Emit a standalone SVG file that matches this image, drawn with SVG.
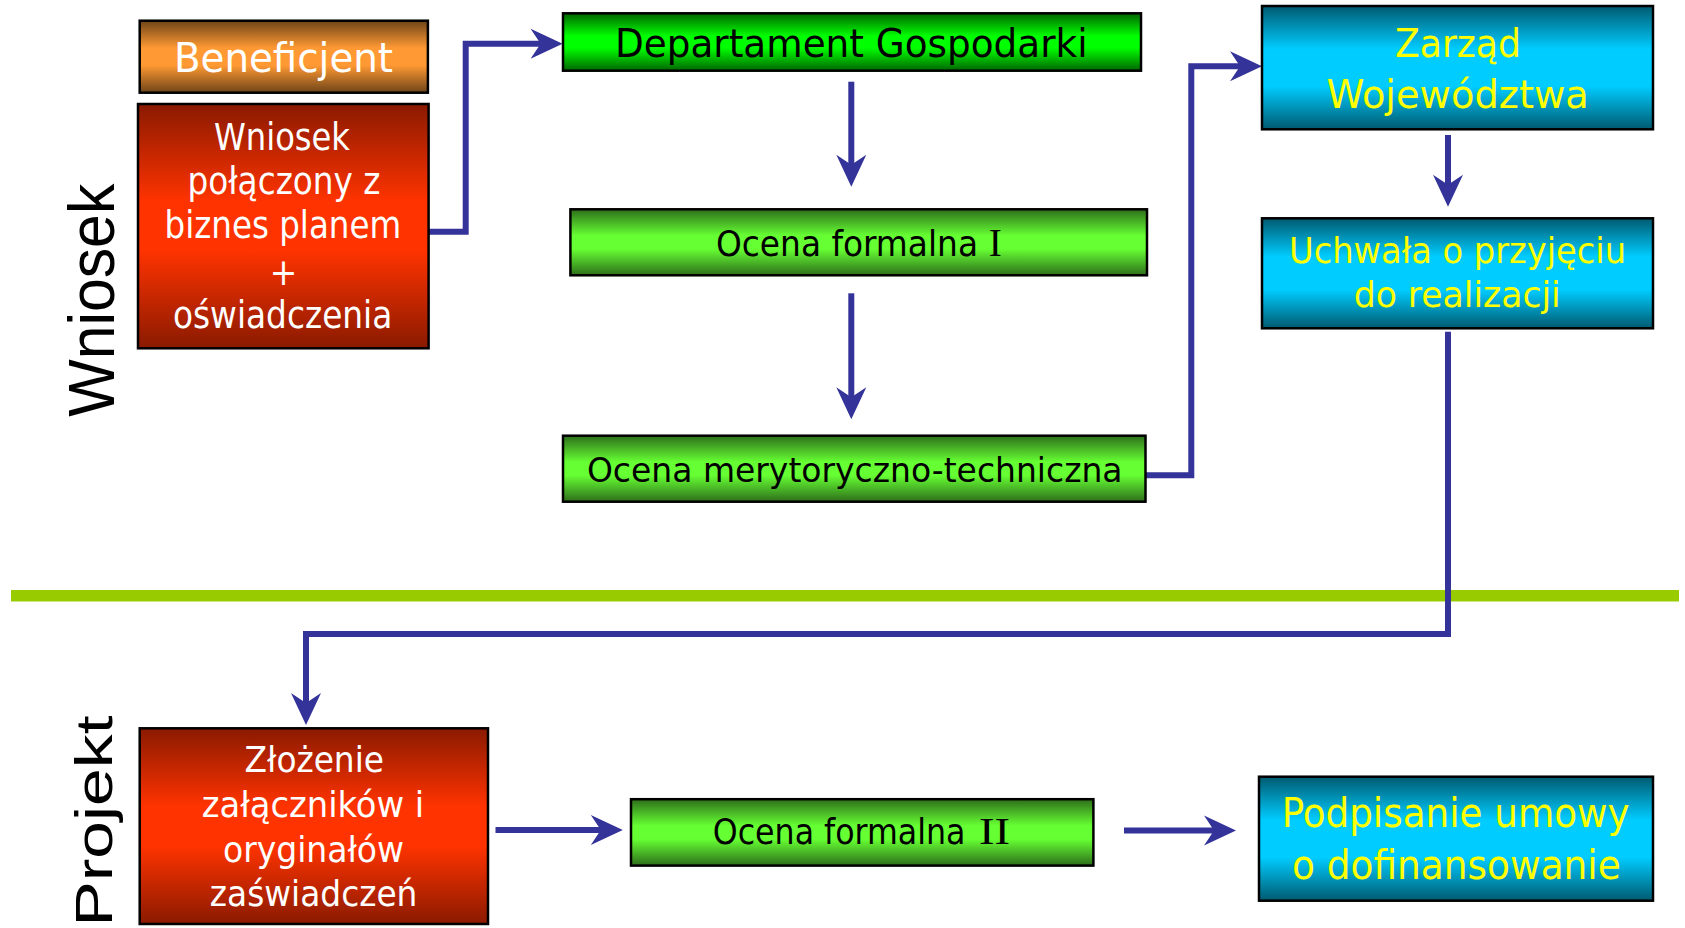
<svg xmlns="http://www.w3.org/2000/svg" width="1685" height="928" viewBox="0 0 1685 928">
<style>
.box{stroke:#000;stroke-width:2.5}
.t{font-family:"DejaVu Sans","Liberation Sans",sans-serif;font-stretch:condensed}
.w{fill:#fff}
.k{fill:#000}
.y{fill:#ffff00}
.s{font-family:"Liberation Serif","Times New Roman",serif;fill:#000}
.lab{font-family:"Liberation Sans",Arial,sans-serif;fill:#000}
.con{fill:none;stroke:#333399;stroke-width:6;stroke-linejoin:miter}
</style>
<defs>
<linearGradient id="gOr" x1="0" y1="0" x2="0" y2="1">
<stop offset="0" stop-color="#6e4418"/><stop offset="0.38" stop-color="#ff9933"/><stop offset="0.62" stop-color="#ff9933"/><stop offset="1" stop-color="#6e4418"/>
</linearGradient>
<linearGradient id="gRed" x1="0" y1="0" x2="0" y2="1">
<stop offset="0" stop-color="#8a1a00"/><stop offset="0.4" stop-color="#ff3300"/><stop offset="0.6" stop-color="#ff3300"/><stop offset="1" stop-color="#8a1a00"/>
</linearGradient>
<linearGradient id="gG1" x1="0" y1="0" x2="0" y2="1">
<stop offset="0" stop-color="#006600"/><stop offset="0.4" stop-color="#00ff00"/><stop offset="0.6" stop-color="#00ff00"/><stop offset="1" stop-color="#006600"/>
</linearGradient>
<linearGradient id="gG2" x1="0" y1="0" x2="0" y2="1">
<stop offset="0" stop-color="#2d6e1a"/><stop offset="0.4" stop-color="#66ff33"/><stop offset="0.6" stop-color="#66ff33"/><stop offset="1" stop-color="#2d6e1a"/>
</linearGradient>
<linearGradient id="gB" x1="0" y1="0" x2="0" y2="1">
<stop offset="0" stop-color="#005a70"/><stop offset="0.35" stop-color="#00ccff"/><stop offset="0.65" stop-color="#00ccff"/><stop offset="1" stop-color="#005a70"/>
</linearGradient>
<marker id="ah" markerUnits="userSpaceOnUse" orient="auto" refX="0" refY="0" markerWidth="40" markerHeight="40" overflow="visible">
<path d="M20,0 L-12,-15 L-2,0 L-12,15 Z" fill="#333399"/>
</marker>
</defs>

<rect x="11" y="590" width="1668" height="11.5" fill="#99cc00"/>

<text class="lab" font-size="64" transform="translate(114,416.7) rotate(-90)" textLength="233" lengthAdjust="spacingAndGlyphs">Wniosek</text>
<text class="lab" font-size="52" transform="translate(111.7,926.5) rotate(-90)" textLength="211" lengthAdjust="spacingAndGlyphs">Projekt</text>

<g id="connectors">
<path class="con" d="M428.6,231.7 H465.7 V43.7 H542.6" marker-end="url(#ah)"/>
<path class="con" d="M851.3,81.7 V166.7" marker-end="url(#ah)"/>
<path class="con" d="M851.3,293.3 V399.3" marker-end="url(#ah)"/>
<path class="con" d="M1146,475.3 H1191.3 V66.3 H1242" marker-end="url(#ah)"/>
<path class="con" d="M1448,135 V186.7" marker-end="url(#ah)"/>
<path class="con" d="M1448,331.7 V634 H306 V705" marker-end="url(#ah)"/>
<path class="con" d="M495.5,830 H602.8" marker-end="url(#ah)"/>
<path class="con" d="M1124,830.5 H1216" marker-end="url(#ah)"/>
</g>

<g id="beneficjent">
<rect class="box" x="139.7" y="20.7" width="288.2" height="72" fill="url(#gOr)"/>
<text class="t w" font-size="41" x="174" y="71.7" textLength="219" lengthAdjust="spacingAndGlyphs">Beneficjent</text>
</g>

<g id="wniosek">
<rect class="box" x="138" y="104" width="290.6" height="244.3" fill="url(#gRed)"/>
<text class="t w" font-size="36.5" x="214" y="150" textLength="136" lengthAdjust="spacingAndGlyphs">Wniosek</text>
<text class="t w" font-size="36.5" x="187.5" y="194" textLength="193" lengthAdjust="spacingAndGlyphs">połączony z</text>
<text class="t w" font-size="36.5" x="164.6" y="238" textLength="236.5" lengthAdjust="spacingAndGlyphs">biznes planem</text>
<text class="t w" font-size="36.5" x="283.5" y="285" text-anchor="middle">+</text>
<text class="t w" font-size="36.5" x="173" y="328.3" textLength="219.3" lengthAdjust="spacingAndGlyphs">oświadczenia</text>
</g>

<g id="departament">
<rect class="box" x="563" y="13.3" width="578" height="57.4" fill="url(#gG1)"/>
<text class="t k" font-size="39" x="615" y="56.7" textLength="472.6" lengthAdjust="spacingAndGlyphs">Departament Gospodarki</text>
</g>

<g id="ocena1">
<rect class="box" x="570.4" y="209.3" width="576.6" height="66" fill="url(#gG2)"/>
<text class="t k" font-size="35" x="716" y="255.7" textLength="262" lengthAdjust="spacingAndGlyphs">Ocena formalna</text>
<text class="s" font-size="39" x="988.8" y="255.7" textLength="13" lengthAdjust="spacingAndGlyphs">I</text>
</g>

<g id="ocena-mer">
<rect class="box" x="563" y="435.7" width="582.5" height="66" fill="url(#gG2)"/>
<text class="t k" font-size="34" x="586.9" y="481.7" textLength="535.7" lengthAdjust="spacingAndGlyphs">Ocena merytoryczno-techniczna</text>
</g>

<g id="zarzad">
<rect class="box" x="1262" y="6" width="391" height="123.3" fill="url(#gB)"/>
<text class="t y" font-size="39" x="1395" y="56.7" textLength="126" lengthAdjust="spacingAndGlyphs">Zarząd</text>
<text class="t y" font-size="39" x="1326.5" y="107.7" textLength="262.3" lengthAdjust="spacingAndGlyphs">Województwa</text>
</g>

<g id="uchwala">
<rect class="box" x="1262" y="218.3" width="391" height="110" fill="url(#gB)"/>
<text class="t y" font-size="36" x="1289" y="263.3" textLength="337" lengthAdjust="spacingAndGlyphs">Uchwała o przyjęciu</text>
<text class="t y" font-size="36" x="1353.7" y="307.3" textLength="207" lengthAdjust="spacingAndGlyphs">do realizacji</text>
</g>

<g id="zlozenie">
<rect class="box" x="139.7" y="728.3" width="348.3" height="195.7" fill="url(#gRed)"/>
<text class="t w" font-size="35" x="244.6" y="772.3" textLength="139.4" lengthAdjust="spacingAndGlyphs">Złożenie</text>
<text class="t w" font-size="35" x="201.8" y="817.3" textLength="222.3" lengthAdjust="spacingAndGlyphs">załączników i</text>
<text class="t w" font-size="35" x="223" y="861.7" textLength="181" lengthAdjust="spacingAndGlyphs">oryginałów</text>
<text class="t w" font-size="35" x="209.8" y="905.7" textLength="207.6" lengthAdjust="spacingAndGlyphs">zaświadczeń</text>
</g>

<g id="ocena2">
<rect class="box" x="631" y="799.2" width="462.4" height="66.4" fill="url(#gG2)"/>
<text class="t k" font-size="35" x="712.8" y="844" textLength="252.6" lengthAdjust="spacingAndGlyphs">Ocena formalna</text>
<text class="s" font-size="38" x="979" y="844" textLength="31" lengthAdjust="spacingAndGlyphs">II</text>
</g>

<g id="podpisanie">
<rect class="box" x="1259" y="776.7" width="394" height="124" fill="url(#gB)"/>
<text class="t y" font-size="41" x="1281.7" y="826.7" textLength="348" lengthAdjust="spacingAndGlyphs">Podpisanie umowy</text>
<text class="t y" font-size="41" x="1292" y="879" textLength="328.8" lengthAdjust="spacingAndGlyphs">o dofinansowanie</text>
</g>
</svg>
